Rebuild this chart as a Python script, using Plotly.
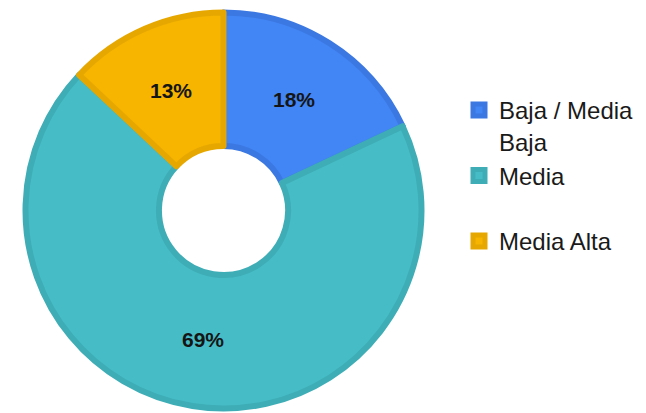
import math
import plotly.graph_objects as go

# Distribution by category (percent)
categories = ["Baja / Media<br>Baja", "Media<br> ", "Media Alta"]
shares = [18, 69, 13]

fill_colors = ["#4285F4", "#46BDC6", "#F7B500"]
edge_colors = ["#3B78E2", "#3EADB6", "#E6A800"]

W, H = 646, 413
# pie geometry (pixels)
cx, cy, radius = 223.5, 210.5, 198
label_r = 131

fig = go.Figure(
    go.Pie(
        labels=categories,
        values=shares,
        sort=False,
        direction="clockwise",
        rotation=0,
        hole=0.326,
        textinfo="none",
        marker=dict(colors=fill_colors, line=dict(color=edge_colors, width=6)),
        domain=dict(x=[(cx - radius) / W, (cx + radius) / W],
                    y=[(H - cy - radius) / H, (H - cy + radius) / H]),
        hoverinfo="label+percent",
    )
)

# percentage labels placed at the middle of each slice's arc
total = sum(shares)
start = 0.0
for v in shares:
    mid = (start + v / 2) / total * 2 * math.pi
    px = cx + label_r * math.sin(mid)
    py = cy - label_r * math.cos(mid)
    fig.add_annotation(
        x=px / W, y=1 - py / H, xref="paper", yref="paper",
        xanchor="center", yanchor="middle",
        text=f"{round(100 * v / total)}%", showarrow=False,
        font=dict(family="Liberation Sans, Arial, sans-serif", size=21,
                  color="#151515", weight="bold"),
    )
    start += v

fig.update_layout(
    width=W,
    height=H,
    margin=dict(l=0, r=0, t=0, b=0),
    paper_bgcolor="white",
    plot_bgcolor="white",
    showlegend=True,
    legend=dict(
        x=459 / W,
        xanchor="left",
        y=1 - 88 / H,
        yanchor="top",
        valign="top",
        traceorder="grouped",
        tracegroupgap=1,
        itemwidth=30,
        font=dict(family="Liberation Sans, Arial, sans-serif", size=24, color="#1a1a1a"),
        bgcolor="rgba(0,0,0,0)",
    ),
)

fig.write_html("out.html")
